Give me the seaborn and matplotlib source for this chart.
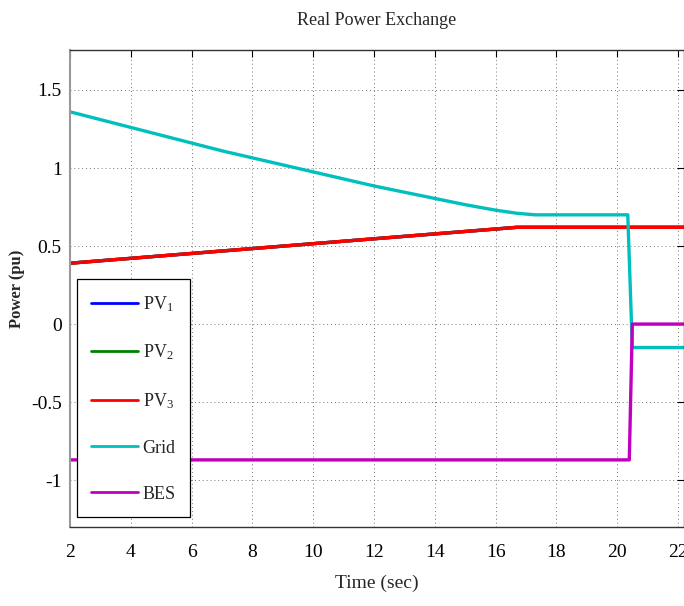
import matplotlib
matplotlib.use("Agg")
import matplotlib.pyplot as plt
import seaborn as sns
import numpy as np
import pandas as pd

# ---- data ----
grid_t = [2, 3, 4, 5, 6, 7, 8, 9, 10, 11, 12, 13, 14, 15, 16, 16.7, 17.3, 20.35, 20.5, 22.2]
grid_p = [1.36, 1.31, 1.26, 1.21, 1.16, 1.11, 1.065, 1.02, 0.975, 0.93, 0.885, 0.845, 0.805, 0.765, 0.73, 0.71, 0.70, 0.70, -0.15, -0.15]

pv_t = [2, 16.7, 22.2]
pv1_p = [0.39, 0.62, 0.62]
pv2_p = [0.39, 0.62, 0.62]
pv3_p = [0.39, 0.62, 0.62]

bes_t = [2, 20.4, 20.5, 22.2]
bes_p = [-0.87, -0.87, 0.0, 0.0]

xticks = [2, 4, 6, 8, 10, 12, 14, 16, 18, 20, 22]
yticks = [-1, -0.5, 0, 0.5, 1, 1.5]
ytick_labels = ["-1", "-0.5", "0", "0.5", "1", "1.5"]

sns.set_style("white")
plt.rcParams['font.family'] = ['Liberation Serif', 'DejaVu Serif']
plt.rcParams['mathtext.fontset'] = 'custom'
plt.rcParams['mathtext.rm'] = 'Liberation Serif'
plt.rcParams['mathtext.it'] = 'Liberation Serif:italic'

fig = plt.figure(figsize=(6.84, 6.06), dpi=100)
ax = fig.add_axes([70/684, 1-527/606, 1 - 70/684, (527-50)/606])

lw = 2.4
sns.lineplot(x=pv_t, y=pv1_p, color=(0, 0, 1), lw=lw, ax=ax, label="PV$_1$", sort=False)
sns.lineplot(x=pv_t, y=pv2_p, color=(0, 0.5, 0), lw=lw, ax=ax, label="PV$_2$", sort=False)
sns.lineplot(x=pv_t, y=pv3_p, color=(1, 0, 0), lw=lw, ax=ax, label="PV$_3$", sort=False)
sns.lineplot(x=grid_t, y=grid_p, color=(0, 0.75, 0.75), lw=lw, ax=ax, label="Grid", sort=False)
sns.lineplot(x=bes_t, y=bes_p, color=(0.75, 0, 0.75), lw=lw, ax=ax, label="BES", sort=False)

ax.set_xlim(2, 22.2)
ax.set_ylim(-1.30, 1.756)
ax.set_xticks(xticks)
ax.set_xticklabels([str(v) for v in xticks], fontsize=14)
ax.set_yticks(yticks)
ax.set_yticklabels(ytick_labels, fontsize=14)
ax.tick_params(direction='in', length=5, top=True, right=True, colors='black')
ax.tick_params(axis='x', pad=12)
ax.tick_params(axis='y', pad=6)
ax.grid(True, linestyle=(0, (1, 3)), color='#777777', linewidth=0.7)
for s in ax.spines.values():
    s.set_color('#333333')
    s.set_linewidth(1.0)
ax.spines['left'].set_color('#999999')
ax.spines['left'].set_linewidth(1.5)

ax.set_title("Real Power Exchange", fontsize=13, pad=18)
ax.set_xlabel("Time (sec)", fontsize=14, labelpad=10)
ax.set_ylabel("Power (pu)", fontsize=12, fontweight='bold', labelpad=4)

leg = ax.legend(loc='lower left', bbox_to_anchor=(0.011, 0.021), fontsize=13,
                frameon=True, fancybox=False, edgecolor='black', framealpha=1,
                handlelength=2.6, handletextpad=0.25, labelspacing=1.6,
                borderpad=0.8, borderaxespad=0)
leg.get_frame().set_linewidth(0.9)
for l in leg.get_lines():
    l.set_linewidth(2)

fig.savefig("out.png", dpi=100)
